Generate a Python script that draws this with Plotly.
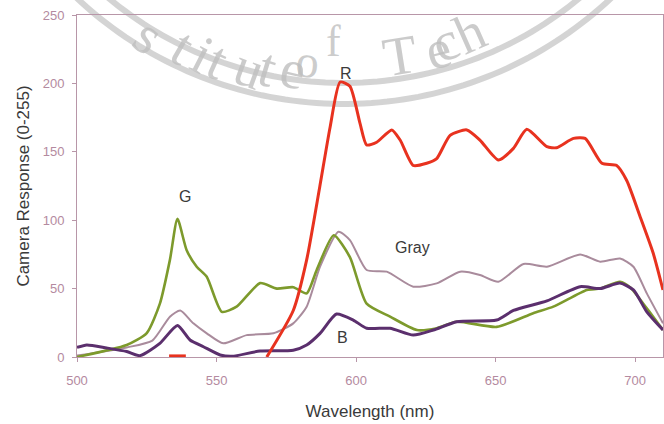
import numpy as np
import plotly.graph_objects as go

# ---- data ----
red_nm = [533, 539, None, 568, 577.5, 582.3, 587, 590.7, 594.3, 597.8, 601.4, 603.8, 607.4, 612.8, 615.8,
          620.5, 625.3, 628.9, 633.7, 639.7, 644.4, 651, 656.4, 661.2, 668.4, 671.9, 677.9,
          682.1, 688.1, 693.4, 697, 701.8, 706.5, 710]
red_val = [0.8, 0.8, None, 0, 34, 71, 124.5, 168, 201, 198, 171, 155, 157, 166, 158.6,
           140, 141.6, 145, 162, 166, 158.6, 144, 152.5, 166.4, 153.7, 153, 159.8,
           159.8, 141.6, 140, 129, 102.6, 75.8, 49]

green_nm = [500, 517.8, 525, 529.7, 533.3, 536, 539.3, 542.9, 546.5, 551.9, 557.2, 565.6, 571.6,
            577.5, 582.3, 585.9, 592, 597.8, 603.8, 612.2, 621.8, 628.9, 636.1, 650.4, 663.5,
            670.7, 682.7, 687.5, 694.6, 698.2, 704.2, 710]
green_val = [0, 8.8, 17.5, 39, 71, 101, 78, 66, 58.7, 33, 36.8, 54, 50,
             51, 46.5, 63.6, 89, 73, 39, 29.5, 19.7, 21, 25.8, 22, 32,
             36.8, 49, 50, 55, 51, 35.6, 19.7]

gray_nm = [500, 517.8, 527, 533.3, 537, 541.7, 546.5, 552.4, 560.8, 570.4, 577.5, 582.3, 587.1,
           593.7, 597.8, 603.8, 611, 620.5, 628.9, 637.3, 644.4, 651, 660, 668.4, 680.3,
           687.5, 694.6, 699.4, 704.2, 710]
gray_val = [1, 7, 12, 29.5, 34, 24.6, 17.3, 10, 16, 17.3, 24.6, 36.8, 66,
            91.6, 85.5, 63.6, 62.4, 51.4, 53.8, 62.4, 60, 55, 68, 66, 75,
            69.7, 72, 66, 46.5, 24.6]

blue_nm = [500, 503.5, 510.6, 517.8, 522.5, 529.7, 536, 540.5, 545.3, 551.3, 555.6, 565.6, 577.5,
           582.3, 587.1, 593, 599, 603.8, 612.2, 620.5, 627.7, 636.1, 650.4, 656.4, 668.4,
           680.3, 687.5, 694.6, 699.4, 704.2, 710]
blue_val = [7, 8.8, 6.6, 4, 1, 10, 23, 12.4, 7.5, 1.5, 0.5, 4.4, 5,
            8.8, 17.3, 31.4, 27, 21, 21, 16, 19.7, 25.8, 27, 34, 41,
            51.4, 50, 54, 49, 33, 19.7]

curve_labels = ["R", "G", "Gray", "B"]
label_nm = [596.5, 538.7, 620.4, 595.3]
label_val = [207, 117, 80, 14]

x_ticks = [500, 550, 600, 650, 700]
y_ticks = [0, 50, 100, 150, 200, 250]

# ---- figure ----
W, H = 664, 424
L, R, T, B = 77, 1, 15, 67
AXC = "#b896a8"
TICKC = "#b48aa0"
SM = 0.6

fig = go.Figure()
fig.add_trace(go.Scatter(x=gray_nm, y=gray_val, mode="lines",
                         line=dict(color="#a98b9c", width=2, shape="spline", smoothing=SM), name="Gray"))
fig.add_trace(go.Scatter(x=green_nm, y=green_val, mode="lines",
                         line=dict(color="#7d9a2c", width=2.6, shape="spline", smoothing=SM), name="G"))
fig.add_trace(go.Scatter(x=blue_nm, y=blue_val, mode="lines",
                         line=dict(color="#5b2f6d", width=3, shape="spline", smoothing=SM), name="B"))
fig.add_trace(go.Scatter(x=red_nm, y=red_val, mode="lines", connectgaps=False,
                         line=dict(color="#e8321f", width=3, shape="spline", smoothing=SM), name="R"))

for t, xv, yv in zip(curve_labels, label_nm, label_val):
    fig.add_annotation(x=xv, y=yv, text=t, showarrow=False,
                       font=dict(family="Liberation Sans, Arial", size=16, color="#3a3a3a"))

# ---- watermark (decoration): two concentric arcs + curved text ----
pw, ph = W - L - R, H - T - B
def px2paper(px, py):
    return (np.asarray(px) - L) / pw, (H - B - np.asarray(py)) / ph

cx, cy = 344, -286
for rad in (369, 390):
    ang = np.linspace(-1.2, 1.2, 120)
    xs, ys = px2paper(cx + rad * np.sin(ang), cy + rad * np.cos(ang))
    path = "M " + " L ".join(f"{a:.4f},{b:.4f}" for a, b in zip(xs, ys))
    fig.add_shape(type="path", path=path, xref="paper", yref="paper",
                  line=dict(color="rgba(205,205,205,0.85)", width=6), layer="below")

wm_chars = ["s", "t", "i", "t", "u", "t", "e", "o", "f", "T", "e", "c", "h"]
wm_px = [120, 158, 179, 196, 224, 249, 272, 307, 333, 400, 438, 469, 498]
wm_py = [2, 14, 21, 27, 32, 34, 35, 33, 15, 20, 15, 6, -4]
wm_rot = [35, 30, 27, 24, 20, 17, 13, 5, 0, -9, -14, -19, -24]
wm_size = [55, 55, 55, 55, 55, 55, 55, 46, 44, 55, 55, 55, 55]
for ch, a, b, r_, s_ in zip(wm_chars, wm_px, wm_py, wm_rot, wm_size):
    xp, yp = px2paper(a, b)
    fig.add_annotation(x=float(xp), y=float(yp), xref="paper", yref="paper", text=ch,
                       showarrow=False, textangle=r_,
                       font=dict(family="Liberation Serif, Times New Roman", size=s_,
                                 color="rgba(190,190,190,0.8)"))

fig.update_layout(
    width=W, height=H,
    margin=dict(l=L, r=R, t=T, b=B, autoexpand=False),
    paper_bgcolor="white", plot_bgcolor="white",
    showlegend=False,
    font=dict(family="Liberation Sans, Arial"),
)
fig.update_xaxes(range=[500, 710], tickvals=x_ticks, showgrid=False, zeroline=False,
                 showline=True, linecolor=AXC, linewidth=1, mirror=True,
                 ticks="outside", ticklen=4, tickcolor=AXC, ticklabelstandoff=7,
                 tickfont=dict(size=13, color=TICKC),
                 title=dict(text="Wavelength (nm)", font=dict(size=17, color="#3a3a3a"), standoff=18))
fig.update_yaxes(range=[0, 250], tickvals=y_ticks, showgrid=False, zeroline=False,
                 showline=True, linecolor=AXC, linewidth=1, mirror=True,
                 ticks="outside", ticklen=4, tickcolor=AXC, ticklabelstandoff=5,
                 tickfont=dict(size=13, color=TICKC),
                 title=dict(text="Camera Response (0-255)", font=dict(size=17, color="#3a3a3a"), standoff=8))

fig.write_html("out.html", config={"displayModeBar": False},
               post_script="document.body.style.margin='0';document.body.style.overflow='hidden';")
